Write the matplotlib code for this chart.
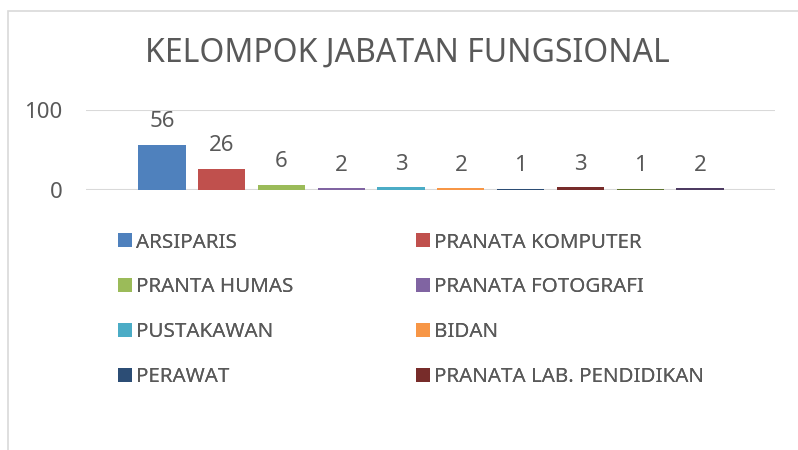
import matplotlib
matplotlib.use("Agg")
import matplotlib.pyplot as plt
from matplotlib.patches import Rectangle

title = "KELOMPOK JABATAN FUNGSIONAL"
series_names = ["ARSIPARIS", "PRANATA KOMPUTER", "PRANTA HUMAS", "PRANATA FOTOGRAFI",
                "PUSTAKAWAN", "BIDAN", "PERAWAT", "PRANATA LAB. PENDIDIKAN"]
values = [56, 26, 6, 2, 3, 2, 1, 3, 1, 2]
colors = ["#4F81BD", "#C0504D", "#9BBB59", "#8064A2", "#4BACC6",
          "#F79646", "#2C4D75", "#772C2A", "#5F7530", "#4D3B62"]
yticks = [0, 100]

TXT = "#595959"
FONT = ["Noto Sans", "DejaVu Sans"]
plt.rcParams["font.family"] = FONT

W, H = 798, 450
fig = plt.figure(figsize=(W / 100, H / 100), dpi=100)

# chart frame border
fig.patches.append(Rectangle((8 / W, -0.2), 1.2, 1 - 10.5 / H + 0.2,
                             transform=fig.transFigure, fill=False,
                             edgecolor="#D9D9D9", linewidth=1.2, zorder=0))

ax = fig.add_axes([86 / W, 1 - 189.5 / H, (775 - 86) / W, 80 / H])
x = list(range(len(values)))
bars = ax.bar(x, values, width=0.79, color=colors, zorder=3)
for xi, v in zip(x, values):
    ax.annotate(str(v), (xi, v), xytext=(0, 12.5), textcoords="offset points",
                ha="center", va="baseline", fontsize=16, color=TXT)

ax.set_xlim(-1.271, 10.255)
ax.set_ylim(0, 100)
ax.set_yticks(yticks)
ax.set_yticklabels([str(t) for t in yticks], fontsize=16, color=TXT)
ax.tick_params(axis="y", length=0, pad=17)
ax.set_xticks([])
for s in ax.spines.values():
    s.set_visible(False)
ax.grid(axis="y", color="#D9D9D9", linewidth=1.5, zorder=0)
ax.set_axisbelow(True)

fig.text(407.5 / W, 1 - 62 / H, title, ha="center", va="baseline",
         fontsize=23, color=TXT)

handles = list(bars.patches)
col1 = [0, 2, 4, 6]
col2 = [1, 3, 5, 7]
for idx, xpos in ((col1, 118), (col2, 416)):
    leg = fig.legend([handles[i] for i in idx], [series_names[i] for i in idx],
                     loc="upper left", bbox_to_anchor=(xpos / W, 1 - 232.5 / H),
                     bbox_transform=fig.transFigure, frameon=False,
                     fontsize=14.8, handlelength=0.66, handleheight=0.66,
                     handletextpad=0.22, labelspacing=1.21, borderaxespad=0,
                     borderpad=0)
    for t in leg.get_texts():
        t.set_color(TXT)
    fig.add_artist(leg)

fig.savefig("out.png", dpi=100)
